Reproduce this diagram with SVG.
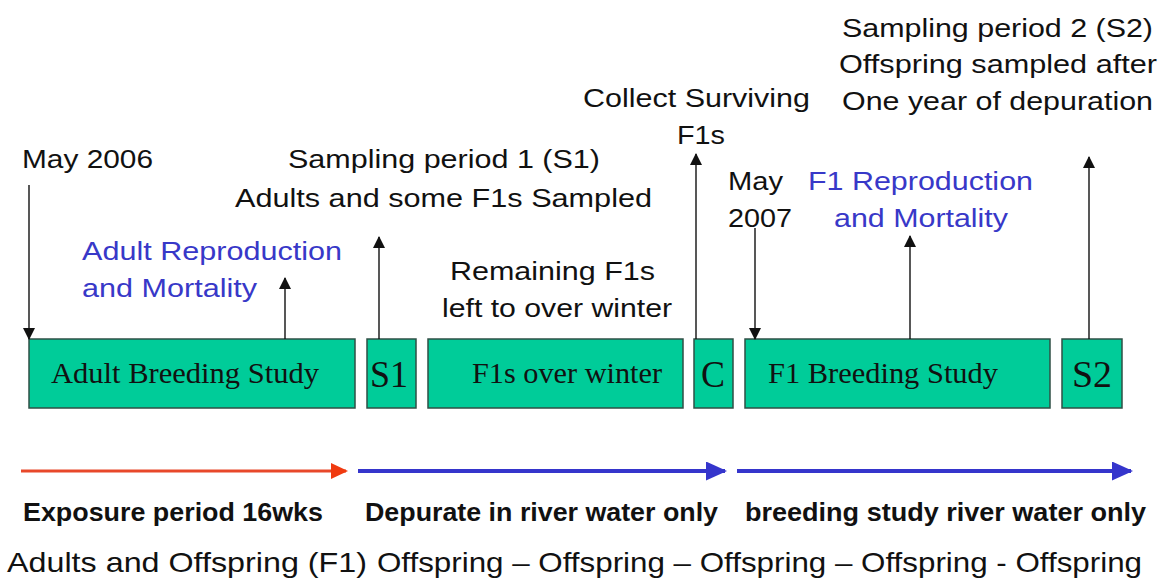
<svg xmlns="http://www.w3.org/2000/svg" width="1166" height="582" viewBox="0 0 1166 582">
  <defs>
    <marker id="ak" markerUnits="userSpaceOnUse" markerWidth="12" markerHeight="12" refX="11" refY="6" orient="auto">
      <path d="M0,0 L12,6 L0,12 z" fill="#111"/>
    </marker>
    <marker id="ar" markerUnits="userSpaceOnUse" markerWidth="17" markerHeight="16" refX="15" refY="8" orient="auto">
      <path d="M0,0 L17,8 L0,16 z" fill="#F03A10"/>
    </marker>
    <marker id="ab" markerUnits="userSpaceOnUse" markerWidth="21" markerHeight="19" refX="19" refY="9.5" orient="auto">
      <path d="M0,0 L21,9.5 L0,19 z" fill="#3535CC"/>
    </marker>
  </defs>
  <style>
    .box { fill: #00CC99; stroke: #2f4f45; stroke-width: 1.5; }
    .bt { font-family: "Liberation Serif", "Times New Roman", serif; fill: #111; }
    .t { font-family: "Liberation Sans", Arial, sans-serif; font-size: 26px; fill: #111; }
    .blue { fill: #3838C8; }
    .b { font-family: "Liberation Sans", Arial, sans-serif; font-size: 25px; font-weight: bold; fill: #111; }
    .r { font-family: "Liberation Sans", Arial, sans-serif; font-size: 28px; fill: #111; }
    .thin { stroke: #111; stroke-width: 1.4; fill: none; marker-end: url(#ak); }
  </style>
  <rect width="1166" height="582" fill="#ffffff"/>

  <g id="node-adult-breeding">
    <rect class="box" x="29" y="339" width="326" height="69"/>
    <text class="bt" x="51" y="383" font-size="30" textLength="268" lengthAdjust="spacingAndGlyphs">Adult Breeding Study</text>
  </g>
  <g id="node-s1">
    <rect class="box" x="367" y="339" width="49" height="69"/>
    <text class="bt" x="370" y="387" font-size="38" textLength="38" lengthAdjust="spacingAndGlyphs">S1</text>
  </g>
  <g id="node-f1s-over-winter">
    <rect class="box" x="428" y="339" width="255" height="69"/>
    <text class="bt" x="472" y="383" font-size="30" textLength="190" lengthAdjust="spacingAndGlyphs">F1s over winter</text>
  </g>
  <g id="node-c">
    <rect class="box" x="694" y="339" width="39" height="69"/>
    <text class="bt" x="701" y="387" font-size="38" textLength="24" lengthAdjust="spacingAndGlyphs">C</text>
  </g>
  <g id="node-f1-breeding">
    <rect class="box" x="745" y="339" width="305" height="69"/>
    <text class="bt" x="768" y="383" font-size="30" textLength="230" lengthAdjust="spacingAndGlyphs">F1 Breeding Study</text>
  </g>
  <g id="node-s2">
    <rect class="box" x="1062" y="339" width="60" height="69"/>
    <text class="bt" x="1072" y="387" font-size="38" textLength="40" lengthAdjust="spacingAndGlyphs">S2</text>
  </g>

  <g id="labels">
    <text class="t" x="842" y="37" textLength="311" lengthAdjust="spacingAndGlyphs">Sampling period 2 (S2)</text>
    <text class="t" x="839" y="73" textLength="318" lengthAdjust="spacingAndGlyphs">Offspring sampled after</text>
    <text class="t" x="842" y="110" textLength="311" lengthAdjust="spacingAndGlyphs">One year of depuration</text>
    <text class="t" x="583" y="107" textLength="227" lengthAdjust="spacingAndGlyphs">Collect Surviving</text>
    <text class="t" x="677" y="144" textLength="48" lengthAdjust="spacingAndGlyphs">F1s</text>
    <text class="t" x="22" y="168" textLength="131" lengthAdjust="spacingAndGlyphs">May 2006</text>
    <text class="t" x="288" y="168" textLength="312" lengthAdjust="spacingAndGlyphs">Sampling period 1 (S1)</text>
    <text class="t" x="235" y="207" textLength="417" lengthAdjust="spacingAndGlyphs">Adults and some F1s Sampled</text>
    <text class="t" x="728" y="190" textLength="55" lengthAdjust="spacingAndGlyphs">May</text>
    <text class="t" x="728" y="227" textLength="64" lengthAdjust="spacingAndGlyphs">2007</text>
    <text class="t" x="450" y="280" textLength="205" lengthAdjust="spacingAndGlyphs">Remaining F1s</text>
    <text class="t" x="442" y="317" textLength="230" lengthAdjust="spacingAndGlyphs">left to over winter</text>
    <text class="t blue" x="82" y="260" textLength="260" lengthAdjust="spacingAndGlyphs">Adult Reproduction</text>
    <text class="t blue" x="82" y="297" textLength="175" lengthAdjust="spacingAndGlyphs">and Mortality</text>
    <text class="t blue" x="808" y="190" textLength="225" lengthAdjust="spacingAndGlyphs">F1 Reproduction</text>
    <text class="t blue" x="834" y="227" textLength="174" lengthAdjust="spacingAndGlyphs">and Mortality</text>

    <text class="b" x="23" y="521" textLength="300" lengthAdjust="spacingAndGlyphs">Exposure period 16wks</text>
    <text class="b" x="365" y="521" textLength="353" lengthAdjust="spacingAndGlyphs">Depurate in river water only</text>
    <text class="b" x="745" y="521" textLength="401" lengthAdjust="spacingAndGlyphs">breeding study river water only</text>
    <text class="r" x="7" y="572" textLength="360" lengthAdjust="spacingAndGlyphs">Adults and Offspring (F1)</text>
    <text class="r" x="377" y="572" textLength="765" lengthAdjust="spacingAndGlyphs">Offspring – Offspring – Offspring – Offspring - Offspring</text>
  </g>

  <g id="connectors">
    <line class="thin" x1="29" y1="185" x2="29" y2="339"/>
    <line class="thin" x1="285" y1="339" x2="285" y2="278"/>
    <line class="thin" x1="379" y1="339" x2="379" y2="237"/>
    <line class="thin" x1="696" y1="339" x2="696" y2="154"/>
    <line class="thin" x1="755" y1="228" x2="755" y2="339"/>
    <line class="thin" x1="910" y1="339" x2="910" y2="236"/>
    <line class="thin" x1="1089" y1="339" x2="1089" y2="157"/>
    <line x1="21" y1="471" x2="346" y2="471" stroke="#E8482A" stroke-width="3" marker-end="url(#ar)"/>
    <line x1="358" y1="471" x2="725" y2="471" stroke="#3535CC" stroke-width="4" marker-end="url(#ab)"/>
    <line x1="737" y1="471" x2="1131" y2="471" stroke="#3535CC" stroke-width="4" marker-end="url(#ab)"/>
  </g>
</svg>
